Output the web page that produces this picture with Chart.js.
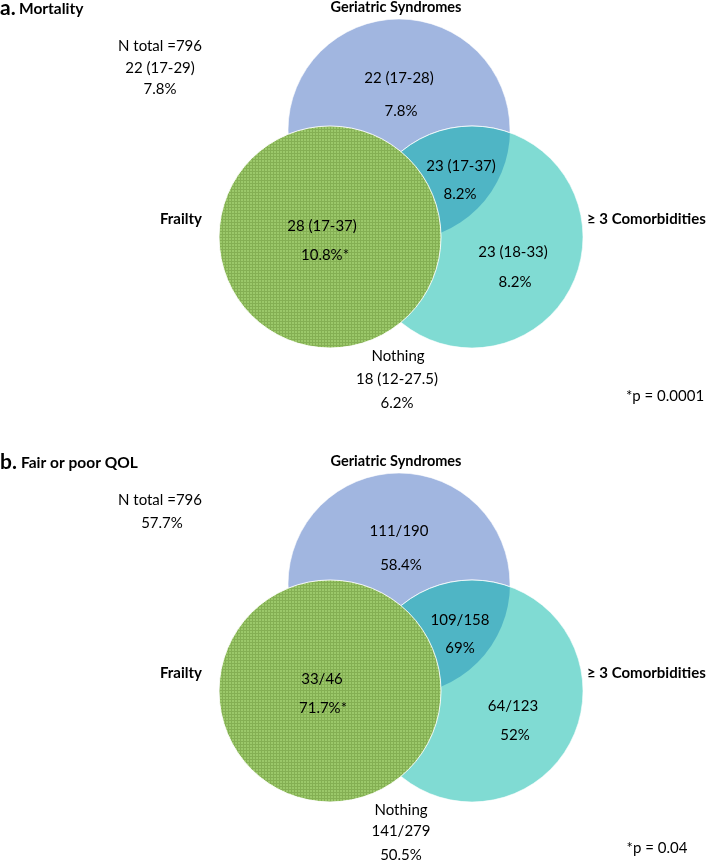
<!DOCTYPE html>
<html><head><meta charset="utf-8">
<script src="https://cdn.jsdelivr.net/npm/chart.js@4.4.1/dist/chart.umd.min.js"></script>
<style>html,body{margin:0;padding:0;background:#fff}#wrap{width:708px;height:861px;position:relative}</style>
</head><body><div id="wrap"><canvas id="c"></canvas></div>
<script>
// ---------- DATA ----------
const setNames = ['Geriatric Syndromes', 'Frailty', '\u2265 3 Comorbidities'];
const panelLetters = ['a.', 'b.'];
const panelTitles = ['Mortality', 'Fair or poor QOL'];
const totalN = 796;
// regions: GS only, GS + Comorbidities, Frailty, Comorbidities only, Nothing, Total
const mortalityMedian = ['22', '23', '28', '23', '18', '22'];
const mortalityIQR = ['17-28', '17-37', '17-37', '18-33', '12-27.5', '17-29'];
const mortalityPct = ['7.8', '8.2', '10.8', '8.2', '6.2', '7.8'];
const qolYes = [111, 109, 33, 64, 141];
const qolN = [190, 158, 46, 123, 279];
const qolPct = ['58.4', '69', '71.7', '52', '50.5', '57.7'];
const pValues = ['0.0001', '0.04'];
const starRegion = 2;

// ---------- LAYOUT ----------
const FONT = 'Lato, "Noto Sans", sans-serif';
const PANEL_DY = 454;
const circleGeom = { fr: [330, 237, 111], co: [472, 237, 111], gs: [399, 130, 111] };
const textLayout = [
  { regions: [[[399,78],[401,111]], [[461,166],[460,194]], [[322,226],[325,255]], [[513,252],[515,282]],
              [[398,356],[397,379],[397,403]], [[160,46],[160,68],[160,89]]], p: [665,396] },
  { regions: [[[399,531],[401,565]], [[460,620],[460,648]], [[322,679],[323,708]], [[513,706],[515,735]],
              [[401,810],[401,831],[401,855]], [[160,500],[162,523]]], p: [657,848] }
];
const setLabelPos = [[396, 7, 'center', 14.5], [181, 219, 'center', 15], [587, 219, 'left', 15]];

function regionLines(panel, i) {
  if (panel === 0) {
    const l = [mortalityMedian[i] + ' (' + mortalityIQR[i] + ')', mortalityPct[i] + '%' + (i === starRegion ? '*' : '')];
    if (i === 4) l.unshift('Nothing');
    if (i === 5) l.unshift('N total =' + totalN);
    return l;
  } else {
    if (i === 5) return ['N total =' + totalN, qolPct[5] + '%'];
    const l = [qolYes[i] + '/' + qolN[i], qolPct[i] + '%' + (i === starRegion ? '*' : '')];
    if (i === 4) l.unshift('Nothing');
    return l;
  }
}

const canvas = document.getElementById('c');
const ctx0 = canvas.getContext('2d');
function makePattern() {
  const c = document.createElement('canvas'); c.width = 3; c.height = 3;
  const g = c.getContext('2d');
  g.fillStyle = '#9BC86A'; g.fillRect(0, 0, 3, 3);
  g.fillStyle = '#84AF53'; g.fillRect(0, 0, 3, 1); g.fillRect(0, 0, 1, 3);
  return ctx0.createPattern(c, 'repeat');
}
function pts(key) {
  const g = circleGeom[key];
  return [0, 1].map(p => ({ x: g[0], y: g[1] + p * PANEL_DY, r: g[2] }));
}

const lensPlugin = {
  id: 'lens',
  beforeDatasetDraw(chart, args) {
    if (args.index !== 0) return;
    const ctx = chart.ctx;
    const blue = chart.getDatasetMeta(2).data, teal = chart.getDatasetMeta(1).data;
    for (let i = 0; i < blue.length; i++) {
      const b = blue[i], t = teal[i];
      ctx.save();
      ctx.beginPath(); ctx.arc(b.x, b.y, b.options.radius, 0, Math.PI * 2); ctx.clip();
      ctx.beginPath(); ctx.arc(t.x, t.y, t.options.radius, 0, Math.PI * 2);
      ctx.fillStyle = '#4FB5C5'; ctx.fill();
      ctx.strokeStyle = 'rgba(255,255,255,0.85)'; ctx.lineWidth = 1; ctx.stroke();
      ctx.restore();
    }
  }
};

const textPlugin = {
  id: 'texts',
  afterDatasetsDraw(chart) {
    const ctx = chart.ctx, xs = chart.scales.x, ys = chart.scales.y;
    const X = v => xs.getPixelForValue(v), Y = v => ys.getPixelForValue(v);
    ctx.save();
    ctx.fillStyle = '#000';
    ctx.textBaseline = 'middle';
    for (let p = 0; p < 2; p++) {
      const dy = p * PANEL_DY;
      ctx.textAlign = 'left';
      ctx.font = 'bold 21px ' + FONT;
      ctx.fillText(panelLetters[p], X(0), Y(8 + dy));
      ctx.font = 'bold 15.5px ' + FONT;
      ctx.fillText(panelTitles[p], X(p === 0 ? 19 : 21), Y(9 + dy));
      setNames.forEach((n, k) => {
        const pos = setLabelPos[k];
        ctx.textAlign = pos[2];
        ctx.font = 'bold ' + pos[3] + 'px ' + FONT;
        ctx.fillText(n, X(pos[0]), Y(pos[1] + dy));
      });
      ctx.font = '15px ' + FONT;
      ctx.textAlign = 'center';
      const lay = textLayout[p];
      for (let i = 0; i < 6; i++) {
        const lines = regionLines(p, i);
        lines.forEach((s, j) => {
          const q = lay.regions[i][j];
          ctx.fillText(s, X(q[0]), Y(q[1]));
        });
      }
      ctx.fillText('*p = ' + pValues[p], X(lay.p[0]), Y(lay.p[1]));
    }
    ctx.restore();
  }
};

new Chart(canvas, {
  type: 'bubble',
  data: {
    datasets: [
      { label: setNames[1], data: pts('fr'), backgroundColor: makePattern(), borderColor: 'rgba(255,255,255,0.9)', borderWidth: 1, clip: false },
      { label: setNames[2], data: pts('co'), backgroundColor: '#80DBD3', borderColor: 'rgba(255,255,255,0.6)', borderWidth: 1, clip: false },
      { label: setNames[0], data: pts('gs'), backgroundColor: '#A1B6E0', borderColor: 'rgba(255,255,255,0.6)', borderWidth: 1, clip: false }
    ]
  },
  options: {
    responsive: true, maintainAspectRatio: false, animation: false, events: [],
    layout: { padding: 0, autoPadding: false },
    plugins: { legend: { display: false }, tooltip: { enabled: false } },
    scales: {
      x: { type: 'linear', min: 0, max: 708, display: false },
      y: { type: 'linear', min: 0, max: 861, reverse: true, display: false }
    }
  },
  plugins: [lensPlugin, textPlugin]
});
</script></body></html>
